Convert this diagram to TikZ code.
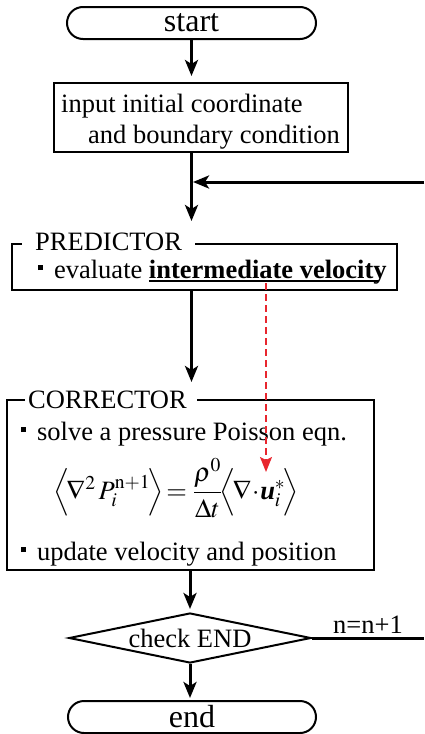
\documentclass[tikz,border=0pt]{standalone}
\usepackage{amsmath}
\usepackage{mathptmx}
\usepackage{fontspec}
\setmainfont{Liberation Serif}
\usetikzlibrary{arrows.meta,shapes.geometric}
\definecolor{hintred}{RGB}{232,38,46}
\newcommand{\sqbul}{\rule[0.3em]{0.18em}{0.18em}\hspace{0.42em}}
\newcommand{\lowline}[1]{\setbox0\hbox{#1}\rlap{\rule[-0.15em]{\dimexpr\wd0-0.3em\relax}{0.075em}}\box0}
\tikzset{
  every node/.style={font=\fontsize{26.5}{32}\selectfont},
  term/.style={draw, line width=2pt, rounded corners=16pt, minimum width=249pt, minimum height=32pt, inner sep=0pt, font=\fontsize{32}{36}\selectfont},
  procbox/.style={draw, line width=2pt, inner sep=0pt},
  boxlabel/.style={fill=white, anchor=base west, inner ysep=2pt},
  txt/.style={anchor=base west, inner sep=0pt},
  flow/.style={line width=3pt, -{Stealth[length=16pt,width=13pt,inset=4pt]}},
  hint/.style={draw=hintred, line width=1.6pt, dash pattern=on 7pt off 4pt, -{Stealth[length=15pt,width=12pt,inset=3pt,fill=hintred]}}
}
\begin{document}
\begin{tikzpicture}[x=1pt,y=-1pt]
	\useasboundingbox (0,0) rectangle (424,734);
	% terminals and boxes
	\node[term] (start) at (191.5,23) {start};
	\node[procbox, minimum width=294pt, minimum height=69pt] (init) at (201,117.5) {};
		\node[txt] at (61,112) {input initial coordinate};
		\node[txt] at (88,143) {and boundary condition};
	\node[procbox, minimum width=385pt, minimum height=46pt] (pred) at (204.5,267) {};
		\node[boxlabel, inner xsep=13pt] at (22,250) {PREDICTOR};
		\node[txt] at (38,278) {\sqbul evaluate \lowline{\textbf{intermediate velocity}}};
	\node[procbox, minimum width=367pt, minimum height=170pt] (corr) at (190.5,485) {};
		\node[boxlabel, inner xsep=3pt] at (25,408) {CORRECTOR\hspace*{7pt}};
		\node[txt] at (21,440) {\sqbul solve a pressure Poisson eqn.};
		\node[anchor=west, inner sep=0pt] (eqn) at (53,488)
			{$\Bigl\langle\!\nabla^2\,P_i^{\mathrm{n+1}}\!\Bigr\rangle\!={}\dfrac{\rho^0}{\Delta t}\!\Bigl\langle\!\nabla\!\cdot\!\textbf{\textit{u}}_i^{*}\!\Bigr\rangle$};
		\node[txt] at (21,560) {\sqbul update velocity and position};
	\node[draw, diamond, aspect=4.8, line width=2pt, inner sep=0pt, minimum width=242pt, minimum height=50pt] (check) at (190,638) {check END};
	\node[term, minimum width=248pt] (stop) at (192,717) {end};
	% loop ends
	\coordinate (loopin) at (424,182);
	\coordinate (loopout) at (424,638);
	\coordinate (velo) at (266,283);
	\coordinate (ustar) at (266,472);
	% connectors
	\draw[flow, shorten >=6pt] (start.south) -- (start.south |- init.north);
	\draw[flow, shorten >=22pt] (start.south |- init.south) -- (start.south |- pred.north);
	\draw[flow, shorten >=1.5pt] (loopin) -- (start.south |- loopin);
	\draw[flow, shorten >=17pt] (start.south |- pred.south) -- (start.south |- corr.north);
	\draw[flow, shorten >=3pt] (check.north |- corr.south) -- (check.north);
	\draw[flow, shorten >=2pt] (check.south) -- (check.south |- stop.north);
	\draw[line width=3pt] (check.east) -- node[above, inner sep=3pt] {n=n+1} (loopout);
	\draw[hint] (velo) -- (ustar);
\end{tikzpicture}
\end{document}
